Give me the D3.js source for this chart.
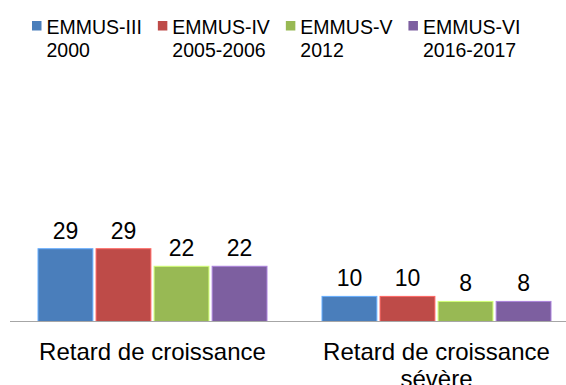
<!DOCTYPE html>
<html>
<head>
<meta charset="utf-8">
<script src="https://cdn.jsdelivr.net/npm/d3@7"></script>
<style>
  html, body { margin: 0; padding: 0; background: #fff; }
  svg { display: block; font-family: "Liberation Sans", Arial, sans-serif; }
</style>
</head>
<body>
<svg id="chart" width="566" height="385"></svg>
<script>
// Indicateurs de retard de croissance par enquête EMMUS
const categories = [["Retard de croissance"], ["Retard de croissance", "sévère"]];
const seriesNames = [["EMMUS-III", "2000"], ["EMMUS-IV", "2005-2006"], ["EMMUS-V", "2012"], ["EMMUS-VI", "2016-2017"]];
const seriesColors = ["#4A7EBB", "#BE4B48", "#98B954", "#7D5FA0"];
const emmus3 = [29, 10];
const emmus4 = [29, 10];
const emmus5 = [22, 8];
const emmus6 = [22, 8];
const seriesValues = [emmus3, emmus4, emmus5, emmus6];

const svg = d3.select("#chart");
const baseY = 321.5;

const x0 = d3.scaleBand().domain(d3.range(categories.length)).range([10.5, 578.5]).padding(0);
const x1 = d3.scaleBand().domain(d3.range(seriesNames.length)).range([27.5, 256.5]).paddingInner(0.055).paddingOuter(0);
const y = d3.scaleLinear().domain([0, 90]).range([baseY, baseY - 90 * 2.51]);

// barres et étiquettes de valeur
const groups = svg.selectAll("g.cat")
  .data(categories)
  .join("g")
  .attr("class", "cat")
  .attr("transform", (d, i) => `translate(${x0(i)},0)`);

groups.each(function (cat, ci) {
  const g = d3.select(this);
  seriesValues.forEach((vals, si) => {
    const v = vals[ci];
    const col = d3.color(seriesColors[si]);
    g.append("rect")
      .attr("x", x1(si))
      .attr("y", y(v))
      .attr("width", x1.bandwidth())
      .attr("height", y(0) - y(v))
      .attr("fill", seriesColors[si])
      .attr("stroke", col.brighter(0.9))
      .attr("stroke-width", 1);
    g.append("text")
      .attr("x", x1(si) + x1.bandwidth() / 2)
      .attr("y", y(v) - 10)
      .attr("text-anchor", "middle")
      .attr("font-size", 23)
      .attr("fill", "#000")
      .text(d3.format("d")(v));
  });
  const lab = g.append("text")
    .attr("text-anchor", "middle")
    .attr("font-size", 24)
    .attr("fill", "#000");
  cat.forEach((line, li) => {
    lab.append("tspan")
      .attr("x", x1.range()[0] + (x1.range()[1] - x1.range()[0]) / 2)
      .attr("y", 360 + li * 27)
      .text(line);
  });
});

// axe horizontal
svg.append("line")
  .attr("x1", 10).attr("x2", 566)
  .attr("y1", baseY).attr("y2", baseY)
  .attr("stroke", "#A6A6A6")
  .attr("stroke-width", 1.2);

// légende
const legend = svg.append("g");
let lx = 32;
seriesNames.forEach((lines, i) => {
  const item = legend.append("g");
  item.append("rect")
    .attr("x", lx).attr("y", 21)
    .attr("width", 9.5).attr("height", 9.5)
    .attr("fill", seriesColors[i]);
  const t = item.append("text").attr("font-size", 19.5).attr("fill", "#000");
  lines.forEach((line, li) => {
    t.append("tspan").attr("x", lx + 14.5).attr("y", 33.5 + li * 23.4).text(line);
  });
  const w = d3.max(t.selectAll("tspan").nodes(), n => n.getComputedTextLength());
  lx += 14.5 + w + 16;
});
</script>
</body>
</html>
